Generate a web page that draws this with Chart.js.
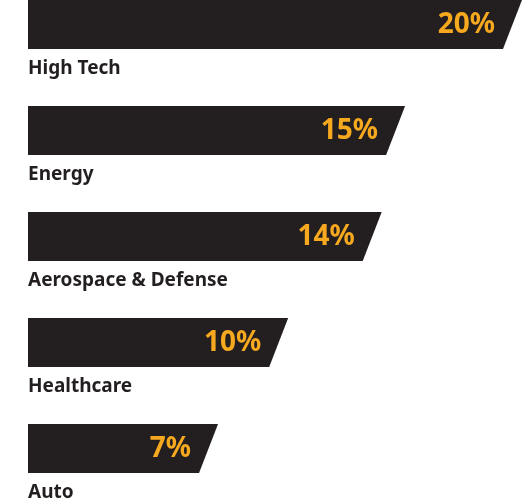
<!DOCTYPE html>
<html>
<head>
<meta charset="utf-8">
<script src="https://cdn.jsdelivr.net/npm/chart.js@4"></script>
<style>
  body { margin: 0; background: #fff; }
  #wrap { width: 532px; height: 498px; position: relative; }
</style>
</head>
<body>
<div id="wrap"><canvas id="myChart"></canvas></div>
<script>
const sectors = ['High Tech', 'Energy', 'Aerospace & Defense', 'Healthcare', 'Auto'];
const shares = [20, 15, 14, 10, 7];

const barColor = '#231f20';
const valueColor = '#f6a81e';

// draws each bar as a slanted-end shape, with the value inside and the name below
const slantBars = {
  id: 'slantBars',
  afterDatasetsDraw(chart) {
    const ctx = chart.ctx;
    const left = chart.chartArea.left;
    const meta = chart.getDatasetMeta(0);
    meta.data.forEach((bar, i) => {
      const p = bar.getProps(['x', 'y', 'height'], true);
      const top = p.y - p.height / 2;
      const bottom = p.y + p.height / 2;
      ctx.save();
      ctx.fillStyle = barColor;
      ctx.beginPath();
      ctx.moveTo(left, top);
      ctx.lineTo(p.x + 10, top);
      ctx.lineTo(p.x - 9, bottom);
      ctx.lineTo(left, bottom);
      ctx.closePath();
      ctx.fill();

      ctx.fillStyle = valueColor;
      ctx.font = 'bold 28px "Noto Sans"';
      ctx.textAlign = 'right';
      ctx.textBaseline = 'middle';
      ctx.fillText(shares[i] + '%', p.x - 17, p.y + 1);

      ctx.fillStyle = barColor;
      ctx.font = 'bold 19px "Noto Sans"';
      ctx.textAlign = 'left';
      ctx.fillText(sectors[i], left, bottom + 19.5);
      ctx.restore();
    });
  }
};

new Chart(document.getElementById('myChart'), {
  type: 'bar',
  data: {
    labels: sectors,
    datasets: [{
      data: shares,
      backgroundColor: 'rgba(0,0,0,0)',
      barThickness: 49
    }]
  },
  options: {
    indexAxis: 'y',
    maintainAspectRatio: false,
    responsive: true,
    animation: false,
    layout: {
      padding: { left: 28, right: 20, top: 24.5, bottom: 49.5 }
    },
    scales: {
      x: { min: -0.7, max: 20, display: false },
      y: { display: false, offset: false }
    },
    plugins: {
      legend: { display: false },
      tooltip: { enabled: false }
    }
  },
  plugins: [slantBars]
});
</script>
</body>
</html>
